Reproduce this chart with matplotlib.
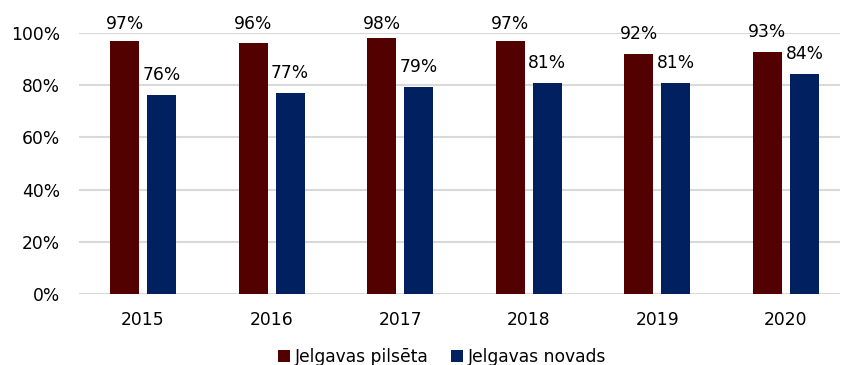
import matplotlib
matplotlib.use("Agg")
import matplotlib.pyplot as plt
import numpy as np

years = ["2015", "2016", "2017", "2018", "2019", "2020"]
pilseta = [96.9, 96.1, 97.9, 97.0, 91.8, 92.6]
novads = [76.1, 77.0, 79.2, 80.7, 80.7, 84.2]
series_names = ["Jelgavas pilsēta", "Jelgavas novads"]
colors = ["#530000", "#002060"]
yticks = [0, 20, 40, 60, 80, 100]

FS = 12.3
plt.rcParams['font.family'] = ['DejaVu Sans']
fig = plt.figure(figsize=(8.43, 3.65), dpi=100)
ax = fig.add_axes([79/843, 1-294/365, (840-79)/843, (294-33)/365])

x = np.arange(len(years))
w = 0.225
off = 0.144
b1 = ax.bar(x - off, pilseta, w, color=colors[0], label=series_names[0], zorder=3)
b2 = ax.bar(x + off, novads, w, color=colors[1], label=series_names[1], zorder=3)

for bars, vals in ((b1, pilseta), (b2, novads)):
    for r, v in zip(bars, vals):
        ypos = min(v + 5.9, 101.5)
        ax.text(r.get_x() + r.get_width()/2, ypos, f"{round(v):d}%",
                ha='center', va='baseline', fontsize=FS, color='black',
                clip_on=False)

ax.set_ylim(0, 100)
ax.set_xlim(-0.498, 5.42)
ax.set_yticks(yticks)
ax.set_yticklabels([f"{t}%" for t in yticks], fontsize=FS)
ax.set_xticks(x)
ax.set_xticklabels(years, fontsize=FS)
ax.tick_params(axis='both', length=0)
ax.tick_params(axis='y', pad=13.5)
ax.tick_params(axis='x', pad=12.0)
ax.yaxis.grid(True, color='#d9d9d9', linewidth=1.5, zorder=0)
ax.set_axisbelow(True)
for s in ax.spines.values():
    s.set_visible(False)
ax.patch.set_alpha(0)

fig.legend(handles=[b1, b2], labels=series_names, loc='center',
           bbox_to_anchor=(442/843, 1-357/365), ncol=2, frameon=False,
           fontsize=FS, handlelength=0.7, handleheight=0.7, handletextpad=0.3,
           columnspacing=1.3)

fig.savefig("out.png", dpi=100)
